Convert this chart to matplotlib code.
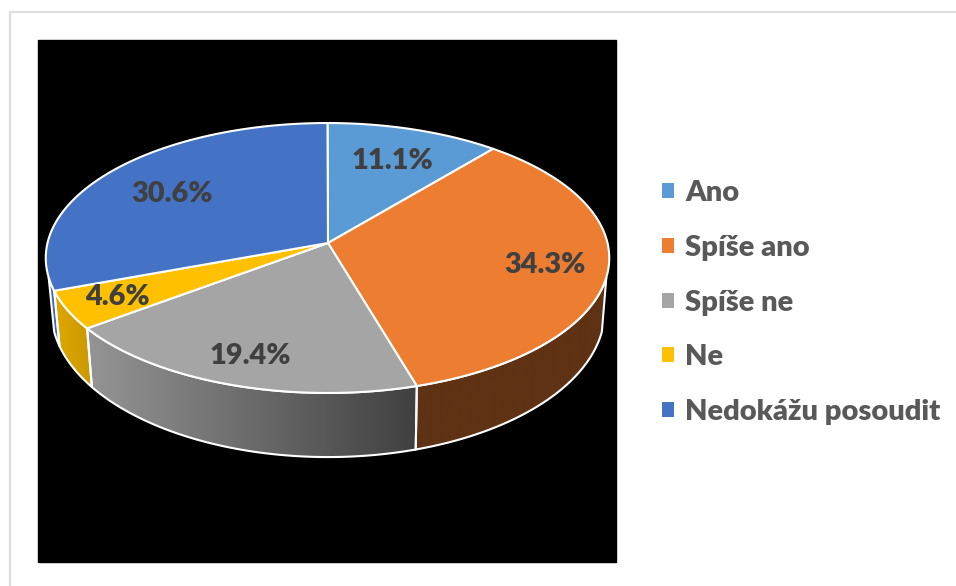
import numpy as np
import matplotlib
matplotlib.use("Agg")
import matplotlib.pyplot as plt
from matplotlib.patches import Patch, Polygon, Rectangle

categories = ["Ano", "Spíše ano", "Spíše ne", "Ne", "Nedokážu posoudit"]
shares = [11.1, 34.3, 19.4, 4.6, 30.6]
colors = ["#5B9BD5", "#ED7D31", "#A5A5A5", "#FFC000", "#4472C4"]
label_pos = [(392, 161), (545, 265), (250, 356), (117, 297), (172, 194)]

# barvy bocni steny: (vlevo, vpravo), Ano ani Nedokazu nejsou videt skoro vubec
wall_colors = {
    1: ("#5F3214", "#5F3214"),
    2: ("#959595", "#404040"),
    3: ("#E0A900", "#C99700"),
    4: ("#3F6DBE", "#3F6DBE"),
}
WALL_FROM, WALL_TO = 104.5, 255.5

plt.rcParams["font.family"] = ["Lato", "DejaVu Sans"]
plt.rcParams["font.weight"] = "heavy"


def project(theta, top=True):
    """uhel ve stupnich (od vrchu po smeru hodin) -> pixely, s perspektivou"""
    t = np.radians(theta)
    u, v = np.sin(t), np.cos(t)
    d = 1 + v / 9
    if top:
        return 327.5 + 280 * u / d, 243 - 133.3 * v / d
    return 328 + 275 * u / d, 294.5 - 144.5 * v / d


def arc(a, b, top=True):
    t = np.linspace(a, b, max(int(abs(b - a) * 2), 2))
    x, y = project(t, top)
    return np.column_stack([x, y])


fig = plt.figure(figsize=(9.56, 5.86), dpi=100)
ax = fig.add_axes([0, 0, 1, 1])
ax.axis("off")

# ramecek a cerne pozadi
ax.plot([10, 10, 956], [586, 12, 12], color="#DEDEDE", lw=1.6, solid_joinstyle="miter")
ax.add_patch(Rectangle((38, 40), 578, 522, color="black"))

edges = np.concatenate([[0], np.cumsum(shares)]) * 3.6

# bocni steny
for i, (c_left, c_right) in wall_colors.items():
    a = max(edges[i], WALL_FROM)
    b = min(edges[i + 1], WALL_TO)
    pts = np.vstack([arc(a, b), arc(b, a, top=False)])
    poly = Polygon(pts, closed=True, fc="none", ec="white", lw=1.5, zorder=3)
    ax.add_patch(poly)
    grad = np.linspace(0, 1, 256)[None, :, None]
    rgb_l = np.array(matplotlib.colors.to_rgb(c_left))
    rgb_r = np.array(matplotlib.colors.to_rgb(c_right))
    img = rgb_l + (rgb_r - rgb_l) * grad
    x0, x1 = pts[:, 0].min(), pts[:, 0].max()
    y0, y1 = pts[:, 1].min(), pts[:, 1].max()
    im = ax.imshow(img, extent=[x0, x1, y1, y0], aspect="auto", zorder=2)
    clip = Polygon(pts, closed=True, transform=ax.transData)
    im.set_clip_path(clip)

# vrchni plocha kolace
for i, share in enumerate(shares):
    pts = np.vstack([[328, 243], arc(edges[i], edges[i + 1])])
    ax.add_patch(Polygon(pts, closed=True, fc=colors[i], ec="white", lw=1.5, zorder=4))
    ax.text(label_pos[i][0], label_pos[i][1], f"{share:.1f}%", color="#404040",
            fontsize=20.8, ha="center", va="center", zorder=5)

handles = [Patch(fc=c, ec="none") for c in colors]
ax.legend(
    handles,
    categories,
    loc="center left",
    bbox_to_anchor=(662 / 956, 1 - 302.5 / 586),
    frameon=False,
    fontsize=21,
    labelcolor="#595959",
    handlelength=0.42,
    handleheight=0.42,
    handletextpad=0.38,
    labelspacing=0.98,
    borderpad=0,
    borderaxespad=0,
)

ax.set_xlim(0, 956)
ax.set_ylim(586, 0)

plt.savefig("out.png", dpi=100)
